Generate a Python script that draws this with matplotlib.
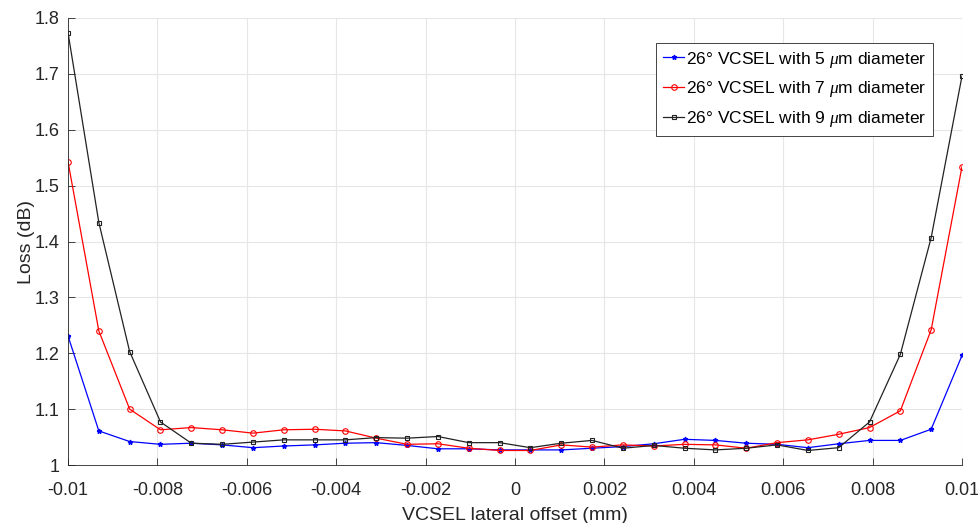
import numpy as np
import matplotlib
matplotlib.use("Agg")
import matplotlib.pyplot as plt
from matplotlib.ticker import FixedLocator

plt.rcParams['font.family'] = ['Liberation Sans', 'DejaVu Sans']
plt.rcParams['mathtext.fontset'] = 'custom'
plt.rcParams['mathtext.it'] = 'Liberation Serif:italic'

# lateral offset (mm), 30 samples between -0.01 and 0.01
offset = np.linspace(-0.01, 0.01, 30)

loss_5um = [1.231, 1.061, 1.042, 1.037, 1.039, 1.036, 1.031, 1.034, 1.036, 1.039,
            1.040, 1.035, 1.029, 1.029, 1.027, 1.027, 1.027, 1.030, 1.033, 1.038,
            1.046, 1.044, 1.039, 1.037, 1.031, 1.038, 1.044, 1.044, 1.064, 1.196]
loss_7um = [1.543, 1.240, 1.100, 1.063, 1.067, 1.063, 1.057, 1.063, 1.064, 1.061,
            1.048, 1.037, 1.038, 1.030, 1.026, 1.026, 1.036, 1.032, 1.036, 1.034,
            1.037, 1.036, 1.030, 1.040, 1.045, 1.055, 1.067, 1.097, 1.242, 1.534]
loss_9um = [1.774, 1.434, 1.203, 1.077, 1.039, 1.037, 1.041, 1.045, 1.045, 1.045,
            1.049, 1.048, 1.051, 1.040, 1.040, 1.031, 1.039, 1.044, 1.030, 1.035,
            1.030, 1.027, 1.030, 1.036, 1.026, 1.031, 1.077, 1.198, 1.407, 1.696]

labels = ["26\u00b0 VCSEL with 5 $\\mathit{\\mu}$m diameter",
          "26\u00b0 VCSEL with 7 $\\mathit{\\mu}$m diameter",
          "26\u00b0 VCSEL with 9 $\\mathit{\\mu}$m diameter"]

fig = plt.figure(figsize=(9.79, 5.23), dpi=100)
ax = fig.add_axes([68/979, 1 - 465/523, (962 - 68)/979, (465 - 18)/523])

ax.plot(offset, loss_5um, color='#0000ff', lw=0.9, marker='*', ms=3.5, label=labels[0])
ax.plot(offset, loss_7um, color='#ff0000', lw=0.9, marker='o', ms=4, mfc='none', mew=0.8, label=labels[1])
ax.plot(offset, loss_9um, color='#222222', lw=0.9, marker='s', ms=3.5, mfc='none', mew=0.8, label=labels[2])

ax.set_xlim(-0.01, 0.01)
ax.set_ylim(1.0, 1.8)
xt = np.linspace(-0.01, 0.01, 11)
ax.xaxis.set_major_locator(FixedLocator(xt))
ax.set_xticklabels(["-0.01", "-0.008", "-0.006", "-0.004", "-0.002", "0",
                    "0.002", "0.004", "0.006", "0.008", "0.01"])
yt = np.linspace(1.0, 1.8, 9)
ax.yaxis.set_major_locator(FixedLocator(yt))
ax.set_yticklabels(["1", "1.1", "1.2", "1.3", "1.4", "1.5", "1.6", "1.7", "1.8"])
ax.tick_params(direction='in', length=5, labelsize=13, colors='#262626', width=0.6)
ax.tick_params(axis='x', pad=12)
ax.tick_params(axis='y', pad=6)
ax.grid(True, color='#e6e6e6', lw=0.8)
ax.set_axisbelow(True)
for s in ax.spines.values():
    s.set_color('#262626')
    s.set_linewidth(0.6)
ax.spines['top'].set_visible(False)
ax.spines['right'].set_visible(False)

ax.set_xlabel("VCSEL lateral offset (mm)", fontsize=14, color='#262626', labelpad=6)
ax.set_ylabel("Loss (dB)", fontsize=14, color='#262626', labelpad=0)

leg = ax.legend(loc='upper right', bbox_to_anchor=(0.968, 0.945), fontsize=12.5,
                fancybox=False, edgecolor='#262626', framealpha=1,
                handlelength=1.2, handletextpad=0.1, borderpad=0.4,
                labelspacing=0.55, borderaxespad=0)
leg.get_frame().set_linewidth(0.6)

fig.savefig("out.png", dpi=100)
